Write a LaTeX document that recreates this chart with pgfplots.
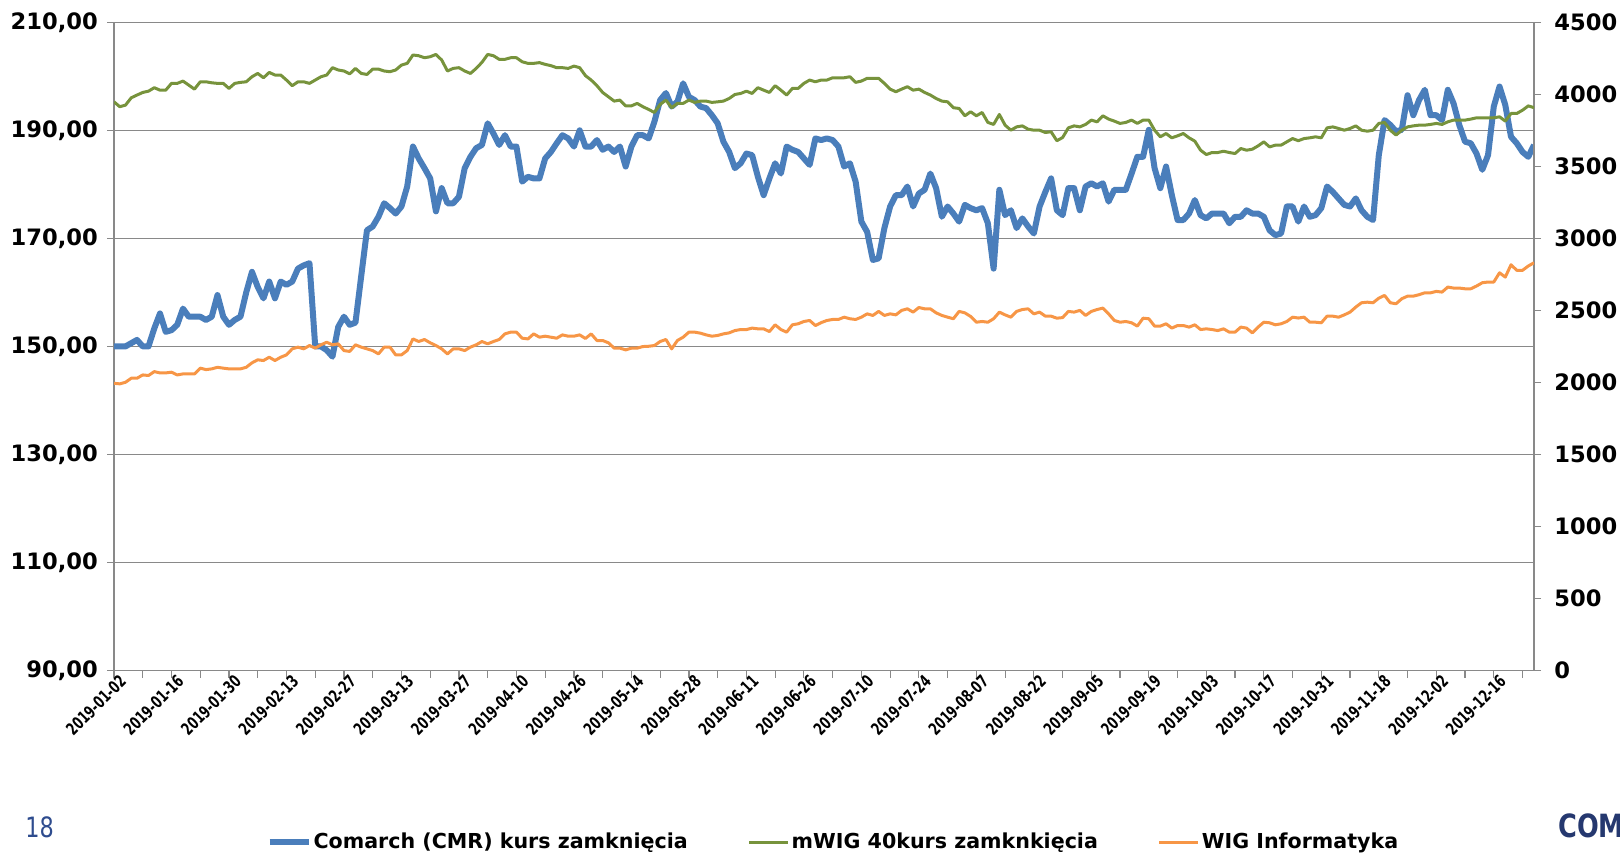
\documentclass[border=0pt]{standalone}
\usepackage{fontspec}
\setmainfont{DejaVu Sans}
\newfontfamily\narrowfont{DejaVu Sans}[FakeStretch=0.7]
\newfontfamily\numfont{DejaVu Sans}[FakeStretch=0.8]
\usepackage{pgfplots}
\pgfplotsset{compat=1.18}
\usepackage{pgfplotstable}
\definecolor{cmrblue}{HTML}{4A7EBB}
\definecolor{mwiggreen}{HTML}{77933C}
\definecolor{wigorange}{HTML}{F79646}
\definecolor{gridgray}{HTML}{898989}
\definecolor{pagenavy}{HTML}{2E4C8E}
\definecolor{logonavy}{HTML}{25386F}

\pgfplotstableread{
i cmr mwig wig
0 150.0 3948 1994
1 150.0 3914 1990
2 150.0 3925 2001
3 150.6 3976 2029
4 151.2 3995 2029
5 150.0 4013 2052
6 150.0 4022 2048
7 153.3 4046 2075
8 156.1 4029 2066
9 152.7 4029 2066
10 153.0 4076 2071
11 154.0 4076 2052
12 157.0 4092 2059
13 155.5 4064 2059
14 155.5 4036 2059
15 155.5 4087 2099
16 154.9 4087 2089
17 155.5 4080 2094
18 159.5 4076 2105
19 155.5 4076 2099
20 154.0 4041 2094
21 154.9 4076 2094
22 155.5 4083 2094
23 160.0 4087 2105
24 163.8 4122 2136
25 161.0 4145 2157
26 158.9 4115 2152
27 162.0 4152 2175
28 158.9 4134 2152
29 162.0 4134 2175
30 161.4 4099 2191
31 162.0 4060 2233
32 164.4 4087 2245
33 165.0 4087 2233
34 165.4 4076 2256
35 150.0 4099 2238
36 150.0 4122 2261
37 149.3 4134 2279
38 148.1 4185 2261
39 153.6 4169 2268
40 155.5 4162 2221
41 154.0 4142 2215
42 154.4 4180 2261
43 163.0 4145 2245
44 171.5 4138 2233
45 172.2 4175 2221
46 174.0 4175 2198
47 176.5 4162 2245
48 175.6 4157 2245
49 174.6 4169 2191
50 175.9 4203 2191
51 179.6 4215 2221
52 187.0 4273 2302
53 184.8 4268 2284
54 183.0 4254 2298
55 181.1 4261 2275
56 175.0 4277 2256
57 179.3 4238 2233
58 176.5 4162 2198
59 176.5 4180 2233
60 177.7 4185 2233
61 183.0 4162 2221
62 185.1 4145 2245
63 186.7 4180 2261
64 187.3 4222 2284
65 191.3 4277 2268
66 189.4 4268 2284
67 187.3 4243 2298
68 189.1 4243 2337
69 187.0 4254 2349
70 187.0 4254 2349
71 180.5 4226 2307
72 181.4 4215 2302
73 181.1 4215 2337
74 181.1 4220 2314
75 184.8 4208 2321
76 186.0 4199 2314
77 187.6 4185 2307
78 189.1 4185 2330
79 188.5 4180 2321
80 187.0 4196 2321
81 190.0 4185 2330
82 187.0 4130 2305
83 187.0 4099 2337
84 188.2 4060 2291
85 186.4 4013 2291
86 187.0 3983 2275
87 186.0 3953 2238
88 187.0 3960 2238
89 183.3 3920 2226
90 187.0 3920 2238
91 189.1 3937 2238
92 189.1 3914 2249
93 188.5 3895 2251
94 191.6 3874 2256
95 195.6 3930 2284
96 196.9 3960 2298
97 194.4 3907 2233
98 195.3 3937 2291
99 198.7 3937 2314
100 196.2 3960 2349
101 195.6 3944 2349
102 194.4 3953 2342
103 194.1 3953 2330
104 192.8 3944 2321
105 191.3 3948 2326
106 187.9 3953 2337
107 186.0 3971 2344
108 183.0 3999 2360
109 183.9 4006 2367
110 185.7 4022 2367
111 185.4 4006 2377
112 181.4 4046 2372
113 178.0 4029 2372
114 181.1 4013 2353
115 183.9 4060 2400
116 182.0 4029 2367
117 187.0 3995 2349
118 186.4 4041 2400
119 186.0 4041 2407
120 184.8 4076 2423
121 183.6 4099 2430
122 188.5 4087 2395
123 188.2 4099 2415
124 188.5 4099 2430
125 188.2 4115 2437
126 187.0 4115 2437
127 183.3 4115 2453
128 183.9 4122 2442
129 180.5 4083 2437
130 173.1 4092 2453
131 171.2 4111 2476
132 166.0 4111 2465
133 166.3 4111 2493
134 171.9 4076 2465
135 175.9 4036 2476
136 178.0 4018 2469
137 178.0 4036 2500
138 179.6 4053 2511
139 175.9 4029 2488
140 178.3 4036 2520
141 179.0 4013 2511
142 182.0 3995 2511
143 179.3 3971 2483
144 174.0 3953 2465
145 175.9 3948 2453
146 174.6 3907 2442
147 173.1 3902 2493
148 176.2 3851 2483
149 175.6 3879 2458
150 175.2 3851 2418
151 175.6 3874 2423
152 172.8 3805 2418
153 164.4 3791 2442
154 179.0 3860 2488
155 174.3 3786 2469
156 175.2 3751 2453
157 171.9 3774 2493
158 173.7 3781 2506
159 172.2 3758 2511
160 170.9 3751 2476
161 175.9 3751 2488
162 178.6 3735 2460
163 181.1 3740 2460
164 175.2 3678 2446
165 174.3 3700 2450
166 179.3 3767 2493
167 179.3 3781 2488
168 175.2 3774 2500
169 179.6 3791 2465
170 180.2 3821 2493
171 179.6 3809 2506
172 180.2 3851 2516
173 176.8 3828 2476
174 179.0 3814 2430
175 179.0 3798 2418
176 179.0 3805 2423
177 182.0 3821 2414
178 185.1 3798 2391
179 185.1 3821 2446
180 190.1 3821 2442
181 183.0 3751 2391
182 179.3 3705 2391
183 183.3 3728 2407
184 178.0 3698 2377
185 173.4 3712 2395
186 173.4 3728 2395
187 174.6 3698 2384
188 177.1 3675 2400
189 174.3 3612 2367
190 173.7 3582 2372
191 174.6 3596 2367
192 174.6 3596 2360
193 174.6 3605 2372
194 172.8 3596 2349
195 174.0 3589 2349
196 174.0 3624 2384
197 175.2 3612 2377
198 174.6 3619 2344
199 174.6 3642 2384
200 174.0 3670 2418
201 171.5 3635 2414
202 170.6 3647 2400
203 170.9 3647 2407
204 175.9 3670 2423
205 175.9 3693 2453
206 173.1 3678 2447
207 175.9 3693 2453
208 174.0 3698 2418
209 174.3 3705 2418
210 175.6 3698 2414
211 179.6 3767 2460
212 178.6 3774 2460
213 177.4 3763 2453
214 176.2 3751 2469
215 175.9 3763 2488
216 177.4 3781 2523
217 175.2 3751 2553
218 174.0 3744 2557
219 173.4 3751 2553
220 185.4 3798 2585
221 191.9 3805 2604
222 191.0 3751 2553
223 189.8 3717 2546
224 190.1 3751 2581
225 196.5 3774 2599
226 192.8 3781 2599
227 195.6 3786 2609
228 197.5 3786 2622
229 192.8 3791 2622
230 192.8 3798 2632
231 191.9 3791 2627
232 197.5 3809 2662
233 195.0 3821 2655
234 191.0 3821 2655
235 187.9 3821 2650
236 187.6 3828 2650
237 185.7 3837 2669
238 182.7 3837 2692
239 185.4 3837 2697
240 194.4 3837 2697
241 198.1 3844 2761
242 194.7 3814 2731
243 188.8 3867 2817
244 187.6 3867 2778
245 186.0 3890 2778
246 185.1 3920 2808
247 187.3 3907 2831
}\data

\begin{document}
\begin{tikzpicture}
\useasboundingbox (0,0) rectangle (810pt,429pt);
\pgfplotsset{
  common/.style={
    scale only axis, width=710pt, height=324.1pt,
    at={(57pt,93.75pt)}, anchor=south west,
    xmin=0, xmax=247,
    axis line style={gridgray, line width=0.6pt},
    tick style={gridgray, line width=0.6pt},
    tick align=outside, major tick length=3.5pt, minor tick length=3.5pt,
  }
}
\begin{axis}[common,
  ymin=90, ymax=210, ytick={90,110,130,150,170,190,210},
  yticklabels={{90,00},{110,00},{130,00},{150,00},{170,00},{190,00},{210,00}},
  axis x line*=bottom, axis y line*=left,
  xtick={0,10,...,240}, minor xtick={5,15,...,245},
  xticklabels={2019-01-02,2019-01-16,2019-01-30,2019-02-13,2019-02-27,2019-03-13,2019-03-27,2019-04-10,2019-04-26,2019-05-14,2019-05-28,2019-06-11,2019-06-26,2019-07-10,2019-07-24,2019-08-07,2019-08-22,2019-09-05,2019-09-19,2019-10-03,2019-10-17,2019-10-31,2019-11-18,2019-12-02,2019-12-16},
  ymajorgrids, grid style={gridgray, line width=0.6pt},
  yticklabel style={font=\bfseries\fontsize{11.3}{13}\selectfont, text=black, anchor=east, inner sep=0pt, xshift=-4.4pt},
  xticklabel style={font=\narrowfont\bfseries\fontsize{8.5}{10}\selectfont, text=black, rotate=45, anchor=east, inner sep=0pt, xshift=3pt, yshift=-3.5pt},
]
\addplot[cmrblue, line width=3pt, line join=round] table[x=i, y=cmr]{\data};
\end{axis}
\begin{axis}[common,
  ymin=0, ymax=4500, ytick={0,500,1000,1500,2000,2500,3000,3500,4000,4500},
  yticklabels={0,500,1000,1500,2000,2500,3000,3500,4000,4500},
  axis y line*=right, axis x line=none,
  yticklabel style={font=\bfseries\fontsize{11.3}{13}\selectfont, text=black, anchor=west, inner sep=0pt, xshift=6.5pt},
  legend columns=3,
  legend style={at={(0.5066,-0.2646)}, anchor=center, draw=none, fill=none,
    font=\bfseries\fontsize{10.3}{12}\selectfont, nodes={inner sep=1pt},
    /tikz/every even column/.append style={column sep=29pt}},
  legend image code/.code={\draw[#1] (0pt,0pt) -- (19.5pt,0pt);},
]
\addlegendimage{cmrblue, line width=3pt}
\addlegendentry{Comarch (CMR) kurs zamknięcia}
\addplot[mwiggreen, line width=1.5pt, line join=round] table[x=i, y=mwig]{\data};
\addlegendentry{mWIG 40kurs zamknkięcia}
\addplot[wigorange, line width=1.5pt, line join=round] table[x=i, y=wig]{\data};
\addlegendentry{WIG Informatyka}
\end{axis}
\node[anchor=base west, inner sep=0pt, text=pagenavy, font=\numfont\fontsize{14}{16}\selectfont] at (12.5pt,10.5pt) {18};
\node[anchor=base west, inner sep=0pt, text=logonavy, font=\numfont\bfseries\fontsize{16}{18}\selectfont] at (779pt,10.5pt) {COM};
\end{tikzpicture}
\end{document}
